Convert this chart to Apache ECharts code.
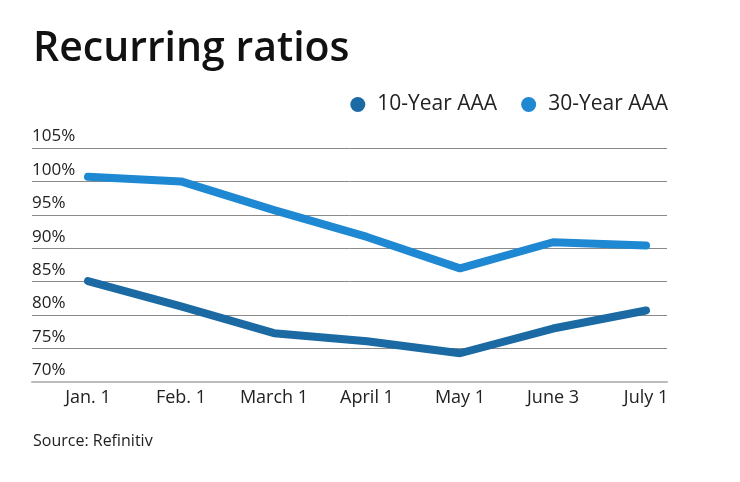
<!DOCTYPE html>
<html>
<head>
<meta charset="utf-8">
<script src="https://cdn.jsdelivr.net/npm/echarts@6/dist/echarts.min.js"></script>
<style>html,body{margin:0;padding:0;background:#fff}#c{width:740px;height:482px}</style>
</head>
<body>
<div id="c"></div>
<script>
var categories = ['Jan. 1', 'Feb. 1', 'March 1', 'April 1', 'May 1', 'June 3', 'July 1'];
var tenYear = [85.1, 81.3, 77.3, 76.1, 74.3, 78.0, 80.7];
var thirtyYear = [100.7, 100.0, 95.7, 91.7, 87.0, 90.9, 90.4];
var yTicks = { min: 70, max: 105, interval: 5 };

var FONT = '"Open Sans", "Noto Sans", sans-serif';
var chart = echarts.init(document.getElementById('c'));
chart.setOption({
  backgroundColor: '#fff',
  animation: false,
  textStyle: { fontFamily: FONT },
  title: [
    { text: 'Recurring ratios', left: 33, top: 29, padding: 0,
      textStyle: { fontFamily: FONT, fontSize: 41, fontWeight: 600, color: '#111' } },
    { text: 'Source: Refinitiv', left: 33, top: 433, padding: 0,
      textStyle: { fontFamily: FONT, fontSize: 16, fontWeight: 'normal', color: '#222' } }
  ],
  legend: {
    right: 72, top: 94, padding: 0, icon: 'circle', itemWidth: 15, itemHeight: 15, itemGap: 24,
    textStyle: { fontFamily: FONT, fontSize: 21, color: '#222', padding: [0, 0, 0, 7] },
    data: ['10-Year AAA', '30-Year AAA']
  },
  grid: [
    { left: 32, right: 73, top: 148, bottom: 100 },
    { left: 88, right: 94, top: 148, bottom: 100 }
  ],
  xAxis: [
    { gridIndex: 0, type: 'value', min: 0, max: 1,
      axisLine: { show: true, lineStyle: { color: '#bdbdbd', width: 2 } },
      axisTick: { show: false }, axisLabel: { show: false }, splitLine: { show: false } },
    { gridIndex: 1, type: 'category', data: categories, boundaryGap: false,
      axisLine: { show: false }, axisTick: { show: false }, splitLine: { show: false },
      axisLabel: { fontFamily: FONT, fontSize: 18, color: '#222', margin: 7 } }
  ],
  yAxis: [
    { gridIndex: 0, type: 'value', min: yTicks.min, max: yTicks.max, interval: yTicks.interval,
      axisLine: { show: false }, axisTick: { show: false },
      splitLine: { show: true, showMinLine: false, lineStyle: { color: '#8a8a8a', width: 1 } },
      axisLabel: { inside: true, margin: 0, verticalAlign: 'bottom', padding: [0, 0, 3, 0],
        fontFamily: FONT, fontSize: 17, color: '#222', formatter: '{value}%' } },
    { gridIndex: 1, type: 'value', min: yTicks.min, max: yTicks.max, interval: yTicks.interval, show: false,
      splitLine: { show: false } }
  ],
  series: [
    { name: '10-Year AAA', type: 'line', xAxisIndex: 1, yAxisIndex: 1, data: tenYear,
      symbol: 'none', color: '#1b6aa3',
      lineStyle: { width: 8, cap: 'round', join: 'round', color: '#1b6aa3' } },
    { name: '30-Year AAA', type: 'line', xAxisIndex: 1, yAxisIndex: 1, data: thirtyYear,
      symbol: 'none', color: '#1f88d3',
      lineStyle: { width: 8, cap: 'round', join: 'round', color: '#1f88d3' } }
  ]
});
</script>
</body>
</html>
